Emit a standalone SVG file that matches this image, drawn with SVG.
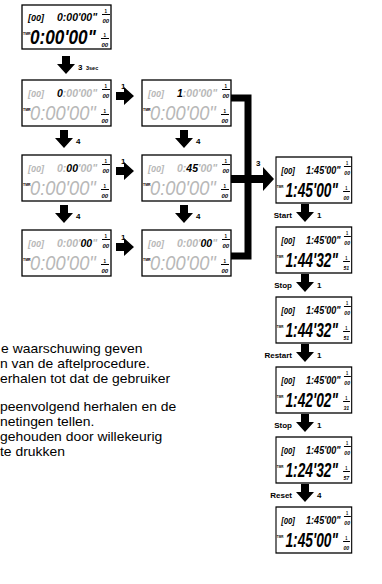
<svg xmlns="http://www.w3.org/2000/svg" width="382" height="584" viewBox="0 0 382 584">
<style>
.box{fill:#fff;stroke:#000;stroke-width:1.3}
.t{font-family:"Liberation Sans",Arial,sans-serif;font-style:italic;font-weight:bold}
.g{fill:#b8b8b8}
.k{fill:#000}
.br{font-size:9px}
.tt{font-size:10.5px}
.big{font-size:21px;font-weight:normal}
.bigk{font-size:21px}
.tmr{font-family:"Liberation Sans",Arial,sans-serif;font-size:3.5px;font-weight:bold}
.ic{font-family:"Liberation Sans",Arial,sans-serif;font-weight:bold;font-size:4.5px}
.ic2{font-style:italic;font-size:6px}
.lbl{font-family:"Liberation Sans",Arial,sans-serif;font-weight:bold;font-size:8px}
.body{font-family:"Liberation Sans",Arial,sans-serif;font-size:13px;fill:#000}
</style>
<defs>
<path id="ad" d="M-4,-10 H4 V-2 H9 L0,8 L-9,-2 H-4 Z"/>
<path id="ar" d="M-10,-4 V4 H-2 V9 L8,0 L-2,-9 V-4 Z"/>
<g id="icon">
<text class="ic"><tspan x="2.5" y="3.5">1</tspan><tspan class="ic2" x="0.5" y="14">00</tspan></text>
<rect x="0" y="5" width="8" height="1"/>
</g>
</defs>

<!-- top box -->
<g id="n0" transform="translate(22,5)">
<rect class="box" x="0" y="0" width="89" height="44"/>
<text class="t br k" x="6" y="16">[00]</text>
<text class="t tt k" x="35" y="16">0:00'00"</text>
<use href="#icon" x="80" y="4"/>
<text class="tmr" x="1" y="30">TMR</text>
<g transform="translate(8,39) scale(0.82,1)"><text class="t bigk k">0:00'00"</text></g>
<use href="#icon" x="79" y="28"/>
</g>

<!-- row boxes -->
<g id="n1" transform="translate(22,80)">
<rect class="box" x="0" y="0" width="89" height="46"/>
<text class="t br g" x="6" y="17">[00]</text>
<text class="t tt g" x="35" y="17"><tspan class="k">0</tspan>:00'00"</text>
<use href="#icon" x="80" y="4"/>
<text class="tmr" x="1" y="31">TMR</text>
<g transform="translate(8,40) scale(0.87,1)"><text class="t big g">0:00'00"</text></g>
<use href="#icon" x="79" y="29"/>
</g>
<g id="n2" transform="translate(142,80)">
<rect class="box" x="0" y="0" width="89" height="46"/>
<text class="t br g" x="6" y="17">[00]</text>
<text class="t tt g" x="35" y="17"><tspan class="k">1</tspan>:00'00"</text>
<use href="#icon" x="80" y="4"/>
<text class="tmr" x="1" y="31">TMR</text>
<g transform="translate(8,40) scale(0.87,1)"><text class="t big g">0:00'00"</text></g>
<use href="#icon" x="79" y="29"/>
</g>
<g id="n3" transform="translate(22,155)">
<rect class="box" x="0" y="0" width="89" height="46"/>
<text class="t br g" x="6" y="17">[00]</text>
<text class="t tt g" x="35" y="17">0:<tspan class="k">00</tspan>'00"</text>
<use href="#icon" x="80" y="4"/>
<text class="tmr" x="1" y="31">TMR</text>
<g transform="translate(8,40) scale(0.87,1)"><text class="t big g">0:00'00"</text></g>
<use href="#icon" x="79" y="29"/>
</g>
<g id="n4" transform="translate(142,155)">
<rect class="box" x="0" y="0" width="89" height="46"/>
<text class="t br g" x="6" y="17">[00]</text>
<text class="t tt g" x="35" y="17">0:<tspan class="k">45</tspan>'00"</text>
<use href="#icon" x="80" y="4"/>
<text class="tmr" x="1" y="31">TMR</text>
<g transform="translate(8,40) scale(0.87,1)"><text class="t big g">0:00'00"</text></g>
<use href="#icon" x="79" y="29"/>
</g>
<g id="n5" transform="translate(22,230)">
<rect class="box" x="0" y="0" width="89" height="46"/>
<text class="t br g" x="6" y="17">[00]</text>
<text class="t tt g" x="35" y="17">0:00'<tspan class="k">00</tspan>"</text>
<use href="#icon" x="80" y="4"/>
<text class="tmr" x="1" y="31">TMR</text>
<g transform="translate(8,40) scale(0.87,1)"><text class="t big g">0:00'00"</text></g>
<use href="#icon" x="79" y="29"/>
</g>
<g id="n6" transform="translate(142,230)">
<rect class="box" x="0" y="0" width="89" height="46"/>
<text class="t br g" x="6" y="17">[00]</text>
<text class="t tt g" x="35" y="17">0:00'<tspan class="k">00</tspan>"</text>
<use href="#icon" x="80" y="4"/>
<text class="tmr" x="1" y="31">TMR</text>
<g transform="translate(8,40) scale(0.87,1)"><text class="t big g">0:00'00"</text></g>
<use href="#icon" x="79" y="29"/>
</g>

<!-- right column -->
<g id="r1" transform="translate(276,157) scale(0.86,1)">
<rect class="box" x="0" y="0" width="88" height="46"/>
<text class="t br k" x="6" y="17">[00]</text>
<text class="t tt k" x="35" y="17">1:45'00"</text>
<use href="#icon" x="79" y="4"/>
<text class="tmr" x="1" y="31">TMR</text>
<g transform="translate(11,40) scale(0.76,1)"><text class="t bigk k">1:45'00"</text></g>
<use href="#icon" x="78" y="29"/>
</g>
<g id="r2" transform="translate(276,227) scale(0.86,1)">
<rect class="box" x="0" y="0" width="88" height="46"/>
<text class="t br k" x="6" y="17">[00]</text>
<text class="t tt k" x="35" y="17">1:45'00"</text>
<use href="#icon" x="79" y="4"/>
<text class="tmr" x="1" y="31">TMR</text>
<g transform="translate(11,40) scale(0.76,1)"><text class="t bigk k">1:44'32"</text></g>
<g transform="translate(78,29)"><text class="ic"><tspan x="2.5" y="3.5">1</tspan><tspan class="ic2" x="0.5" y="14">51</tspan></text><rect x="0" y="5" width="8" height="1"/></g>
</g>
<g id="r3" transform="translate(276,297) scale(0.86,1)">
<rect class="box" x="0" y="0" width="88" height="46"/>
<text class="t br k" x="6" y="17">[00]</text>
<text class="t tt k" x="35" y="17">1:45'00"</text>
<use href="#icon" x="79" y="4"/>
<text class="tmr" x="1" y="31">TMR</text>
<g transform="translate(11,40) scale(0.76,1)"><text class="t bigk k">1:44'32"</text></g>
<g transform="translate(78,29)"><text class="ic"><tspan x="2.5" y="3.5">1</tspan><tspan class="ic2" x="0.5" y="14">51</tspan></text><rect x="0" y="5" width="8" height="1"/></g>
</g>
<g id="r4" transform="translate(276,367) scale(0.86,1)">
<rect class="box" x="0" y="0" width="88" height="46"/>
<text class="t br k" x="6" y="17">[00]</text>
<text class="t tt k" x="35" y="17">1:45'00"</text>
<use href="#icon" x="79" y="4"/>
<text class="tmr" x="1" y="31">TMR</text>
<g transform="translate(11,40) scale(0.76,1)"><text class="t bigk k">1:42'02"</text></g>
<g transform="translate(78,29)"><text class="ic"><tspan x="2.5" y="3.5">1</tspan><tspan class="ic2" x="0.5" y="14">31</tspan></text><rect x="0" y="5" width="8" height="1"/></g>
</g>
<g id="r5" transform="translate(276,437) scale(0.86,1)">
<rect class="box" x="0" y="0" width="88" height="46"/>
<text class="t br k" x="6" y="17">[00]</text>
<text class="t tt k" x="35" y="17">1:45'00"</text>
<use href="#icon" x="79" y="4"/>
<text class="tmr" x="1" y="31">TMR</text>
<g transform="translate(11,40) scale(0.76,1)"><text class="t bigk k">1:24'32"</text></g>
<g transform="translate(78,29)"><text class="ic"><tspan x="2.5" y="3.5">1</tspan><tspan class="ic2" x="0.5" y="14">57</tspan></text><rect x="0" y="5" width="8" height="1"/></g>
</g>
<g id="r6" transform="translate(276,507) scale(0.86,1)">
<rect class="box" x="0" y="0" width="88" height="46"/>
<text class="t br k" x="6" y="17">[00]</text>
<text class="t tt k" x="35" y="17">1:45'00"</text>
<use href="#icon" x="79" y="4"/>
<text class="tmr" x="1" y="31">TMR</text>
<g transform="translate(11,40) scale(0.76,1)"><text class="t bigk k">1:45'00"</text></g>
<use href="#icon" x="78" y="29"/>
</g>

<!-- connectors -->
<g id="connectors">
<use href="#ad" x="66" y="66"/>
<text class="lbl" x="78" y="70">3</text>
<text class="lbl" x="86" y="70" style="font-size:5.5px">3sec</text>

<use href="#ar" x="126" y="96"/>
<text class="lbl" x="121" y="89">1</text>
<use href="#ar" x="126" y="171"/>
<text class="lbl" x="121" y="164">1</text>
<use href="#ar" x="126" y="247"/>
<text class="lbl" x="121" y="240">1</text>

<use href="#ad" x="64" y="140"/>
<text class="lbl" x="76" y="144">4</text>
<use href="#ad" x="184" y="140"/>
<text class="lbl" x="196" y="144">4</text>
<use href="#ad" x="64" y="215"/>
<text class="lbl" x="76" y="219">4</text>
<use href="#ad" x="184" y="215"/>
<text class="lbl" x="196" y="219">4</text>

<path d="M231,98 H248 V256 H231" fill="none" stroke="#000" stroke-width="7"/>
<path d="M231,175 H263 V167 L274,179 L263,191 V183 H231 Z"/>
<text class="lbl" x="256" y="166">3</text>

<text class="lbl" x="292" y="218" text-anchor="end">Start</text>
<use href="#ad" x="305" y="214"/>
<text class="lbl" x="317" y="218">1</text>
<text class="lbl" x="292" y="288" text-anchor="end">Stop</text>
<use href="#ad" x="305" y="284"/>
<text class="lbl" x="317" y="288">1</text>
<text class="lbl" x="292" y="358" text-anchor="end">Restart</text>
<use href="#ad" x="305" y="354"/>
<text class="lbl" x="317" y="358">1</text>
<text class="lbl" x="292" y="428" text-anchor="end">Stop</text>
<use href="#ad" x="305" y="424"/>
<text class="lbl" x="317" y="428">1</text>
<text class="lbl" x="292" y="498" text-anchor="end">Reset</text>
<use href="#ad" x="305" y="494"/>
<text class="lbl" x="317" y="498">4</text>
</g>

<!-- body text -->
<g transform="scale(1.07,1)">
<text class="body" x="1" y="353">e waarschuwing geven</text>
<text class="body" x="0" y="368">n van de aftelprocedure.</text>
<text class="body" x="0" y="383">erhalen tot dat de gebruiker</text>
<text class="body" x="0" y="411">peenvolgend herhalen en de</text>
<text class="body" x="0" y="426">netingen tellen.</text>
<text class="body" x="0" y="441">gehouden door willekeurig</text>
<text class="body" x="0" y="456">te drukken</text>
</g>
</svg>
